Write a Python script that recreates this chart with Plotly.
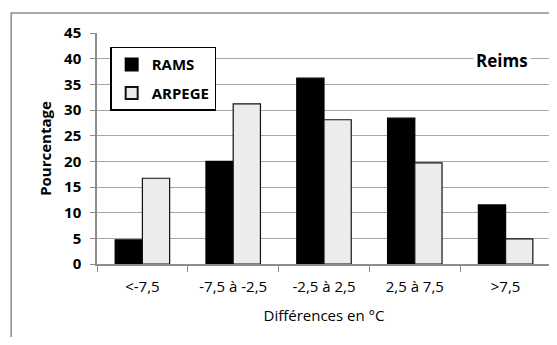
import plotly.graph_objects as go

# ── Data ────────────────────────────────────────────────────────────────────
CATEGORIES = ["<-7,5", "-7,5 à -2,5", "-2,5 à 2,5", "2,5 à 7,5", ">7,5"]
RAMS       = [4.7, 20.0, 36.2, 28.4, 11.5]
ARPEGE     = [16.7, 31.2, 28.1, 19.7, 4.9]
Y_TICKS    = [0, 5, 10, 15, 20, 25, 30, 35, 40, 45]

FONT  = "Open Sans, Noto Sans, sans-serif"
GRID  = "#a6a6a6"
AXIS  = "#8c8c8c"

fig = go.Figure()
fig.add_trace(go.Bar(
    x=CATEGORIES, y=RAMS, name="RAMS", legendgroup="a",
    marker=dict(color="#000000", line=dict(color="#000000", width=1.2)),
))
fig.add_trace(go.Bar(
    x=CATEGORIES, y=ARPEGE, name="ARPEGE", legendgroup="b",
    marker=dict(color="#ececec", line=dict(color="#111111", width=1.2)),
))

# page body has an 8px margin -> figure is 549x329 so the window shows no scrollbars
fig.update_layout(
    width=549, height=329,
    paper_bgcolor="white", plot_bgcolor="white",
    font=dict(family=FONT, color="#000000", size=15),
    margin=dict(l=89, r=6, t=25, b=73, autoexpand=False),
    barmode="group", bargap=0.4, bargroupgap=0,
    showlegend=True,
    legend=dict(
        x=0.029, y=0.94, xanchor="left", yanchor="top",
        bgcolor="white", bordercolor="#000000", borderwidth=1.5,
        font=dict(family=FONT, size=15, color="#000000", weight="bold"),
        itemsizing="constant", tracegroupgap=6,
    ),
)

fig.update_xaxes(
    type="category", tickson="boundaries", automargin=False,
    ticks="outside", ticklen=6, tickcolor=AXIS,
    showline=True, linecolor=AXIS, linewidth=1.5,
    showgrid=False, ticklabelstandoff=8,
    tickfont=dict(size=15, family=FONT),
    title=dict(text="Différences en °C", font=dict(size=15, family=FONT), standoff=16),
)
fig.update_yaxes(
    range=[0, 45], tickvals=Y_TICKS, automargin=False,
    ticks="outside", ticklen=5, tickcolor=AXIS,
    showline=True, linecolor=AXIS, linewidth=1.5,
    showgrid=True, gridcolor=GRID, gridwidth=1.2,
    zeroline=False, ticklabelstandoff=6,
    tickfont=dict(size=15, family=FONT, weight="bold"),
    title=dict(text="Pourcentage", font=dict(size=15, family=FONT, weight="bold"), standoff=9),
)

# outer chart frame (cropped at the right and bottom)
fig.add_shape(type="rect", xref="paper", yref="paper",
              x0=-0.189, x1=1.2, y0=-0.5, y1=1.087,
              line=dict(color=AXIS, width=1.5), layer="below")

fig.add_annotation(
    text="<b>Reims</b>", xref="paper", yref="paper",
    x=0.892, y=0.883, xanchor="center", yanchor="middle", showarrow=False,
    font=dict(family=FONT, size=17, color="#000000"),
    bgcolor="white", borderpad=2,
)

fig.write_html("out.html")
